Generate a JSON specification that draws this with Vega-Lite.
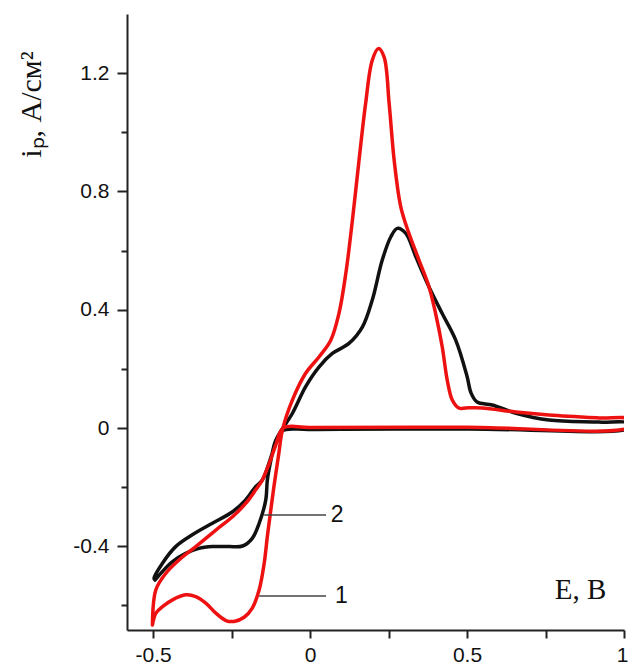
{
  "$schema": "https://vega.github.io/schema/vega-lite/v6.json",
  "width": 497,
  "height": 616,
  "autosize": {"type": "none"},
  "padding": {"left": 127, "top": 14, "right": 4, "bottom": 41},
  "background": "white",
  "config": {"view": {"stroke": null}},
  "datasets": {
    "curves": [
      {"s": "2", "o": 1, "E": -0.494, "i": -0.514},
      {"s": "2", "o": 2, "E": -0.470, "i": -0.485},
      {"s": "2", "o": 3, "E": -0.438, "i": -0.452},
      {"s": "2", "o": 4, "E": -0.396, "i": -0.424},
      {"s": "2", "o": 5, "E": -0.354, "i": -0.407},
      {"s": "2", "o": 6, "E": -0.311, "i": -0.401},
      {"s": "2", "o": 7, "E": -0.258, "i": -0.401},
      {"s": "2", "o": 8, "E": -0.215, "i": -0.399},
      {"s": "2", "o": 9, "E": -0.184, "i": -0.373},
      {"s": "2", "o": 10, "E": -0.162, "i": -0.322},
      {"s": "2", "o": 11, "E": -0.141, "i": -0.243},
      {"s": "2", "o": 12, "E": -0.136, "i": -0.176},
      {"s": "2", "o": 13, "E": -0.125, "i": -0.110},
      {"s": "2", "o": 14, "E": -0.109, "i": -0.041},
      {"s": "2", "o": 15, "E": -0.056, "i": 0.050},
      {"s": "2", "o": 16, "E": -0.014, "i": 0.140},
      {"s": "2", "o": 17, "E": 0.029, "i": 0.207},
      {"s": "2", "o": 18, "E": 0.071, "i": 0.252},
      {"s": "2", "o": 19, "E": 0.124, "i": 0.286},
      {"s": "2", "o": 20, "E": 0.167, "i": 0.342},
      {"s": "2", "o": 21, "E": 0.198, "i": 0.432},
      {"s": "2", "o": 22, "E": 0.230, "i": 0.568},
      {"s": "2", "o": 23, "E": 0.257, "i": 0.646},
      {"s": "2", "o": 24, "E": 0.278, "i": 0.675},
      {"s": "2", "o": 25, "E": 0.305, "i": 0.658},
      {"s": "2", "o": 26, "E": 0.337, "i": 0.579},
      {"s": "2", "o": 27, "E": 0.379, "i": 0.477},
      {"s": "2", "o": 28, "E": 0.421, "i": 0.387},
      {"s": "2", "o": 29, "E": 0.464, "i": 0.297},
      {"s": "2", "o": 30, "E": 0.500, "i": 0.175},
      {"s": "2", "o": 31, "E": 0.513, "i": 0.118},
      {"s": "2", "o": 32, "E": 0.532, "i": 0.088},
      {"s": "2", "o": 33, "E": 0.580, "i": 0.078},
      {"s": "2", "o": 34, "E": 0.656, "i": 0.050},
      {"s": "2", "o": 35, "E": 0.761, "i": 0.027},
      {"s": "2", "o": 36, "E": 0.920, "i": 0.020},
      {"s": "2", "o": 37, "E": 1.020, "i": 0.016},
      {"s": "2", "o": 38, "E": 1.020, "i": 0.000},
      {"s": "2", "o": 39, "E": 0.500, "i": -0.003},
      {"s": "2", "o": 40, "E": 0.000, "i": -0.005},
      {"s": "2", "o": 41, "E": -0.090, "i": -0.010},
      {"s": "2", "o": 42, "E": -0.115, "i": -0.070},
      {"s": "2", "o": 43, "E": -0.152, "i": -0.176},
      {"s": "2", "o": 44, "E": -0.173, "i": -0.198},
      {"s": "2", "o": 45, "E": -0.205, "i": -0.243},
      {"s": "2", "o": 46, "E": -0.247, "i": -0.283},
      {"s": "2", "o": 47, "E": -0.311, "i": -0.322},
      {"s": "2", "o": 48, "E": -0.375, "i": -0.361},
      {"s": "2", "o": 49, "E": -0.428, "i": -0.401},
      {"s": "2", "o": 50, "E": -0.470, "i": -0.457},
      {"s": "2", "o": 51, "E": -0.497, "i": -0.508},
      {"s": "2", "o": 52, "E": -0.494, "i": -0.514},

      {"s": "1", "o": 1, "E": -0.502, "i": -0.666},
      {"s": "1", "o": 2, "E": -0.491, "i": -0.626},
      {"s": "1", "o": 3, "E": -0.470, "i": -0.604},
      {"s": "1", "o": 4, "E": -0.438, "i": -0.581},
      {"s": "1", "o": 5, "E": -0.396, "i": -0.564},
      {"s": "1", "o": 6, "E": -0.364, "i": -0.570},
      {"s": "1", "o": 7, "E": -0.332, "i": -0.592},
      {"s": "1", "o": 8, "E": -0.300, "i": -0.626},
      {"s": "1", "o": 9, "E": -0.268, "i": -0.651},
      {"s": "1", "o": 10, "E": -0.242, "i": -0.654},
      {"s": "1", "o": 11, "E": -0.210, "i": -0.640},
      {"s": "1", "o": 12, "E": -0.184, "i": -0.609},
      {"s": "1", "o": 13, "E": -0.162, "i": -0.547},
      {"s": "1", "o": 14, "E": -0.146, "i": -0.457},
      {"s": "1", "o": 15, "E": -0.136, "i": -0.367},
      {"s": "1", "o": 16, "E": -0.125, "i": -0.277},
      {"s": "1", "o": 17, "E": -0.115, "i": -0.198},
      {"s": "1", "o": 18, "E": -0.100, "i": -0.090},
      {"s": "1", "o": 19, "E": -0.088, "i": -0.007},
      {"s": "1", "o": 20, "E": -0.056, "i": 0.095},
      {"s": "1", "o": 21, "E": -0.014, "i": 0.185},
      {"s": "1", "o": 22, "E": 0.029, "i": 0.241},
      {"s": "1", "o": 23, "E": 0.066, "i": 0.297},
      {"s": "1", "o": 24, "E": 0.092, "i": 0.387},
      {"s": "1", "o": 25, "E": 0.114, "i": 0.523},
      {"s": "1", "o": 26, "E": 0.135, "i": 0.703},
      {"s": "1", "o": 27, "E": 0.156, "i": 0.905},
      {"s": "1", "o": 28, "E": 0.177, "i": 1.097},
      {"s": "1", "o": 29, "E": 0.198, "i": 1.243},
      {"s": "1", "o": 30, "E": 0.218, "i": 1.283},
      {"s": "1", "o": 31, "E": 0.236, "i": 1.254},
      {"s": "1", "o": 32, "E": 0.252, "i": 1.097},
      {"s": "1", "o": 33, "E": 0.268, "i": 0.905},
      {"s": "1", "o": 34, "E": 0.289, "i": 0.748},
      {"s": "1", "o": 35, "E": 0.315, "i": 0.658},
      {"s": "1", "o": 36, "E": 0.347, "i": 0.568},
      {"s": "1", "o": 37, "E": 0.379, "i": 0.477},
      {"s": "1", "o": 38, "E": 0.400, "i": 0.387},
      {"s": "1", "o": 39, "E": 0.421, "i": 0.275},
      {"s": "1", "o": 40, "E": 0.437, "i": 0.162},
      {"s": "1", "o": 41, "E": 0.453, "i": 0.095},
      {"s": "1", "o": 42, "E": 0.475, "i": 0.067},
      {"s": "1", "o": 43, "E": 0.497, "i": 0.068},
      {"s": "1", "o": 44, "E": 0.548, "i": 0.068},
      {"s": "1", "o": 45, "E": 0.656, "i": 0.054},
      {"s": "1", "o": 46, "E": 0.761, "i": 0.044},
      {"s": "1", "o": 47, "E": 0.920, "i": 0.034},
      {"s": "1", "o": 48, "E": 1.020, "i": 0.029},
      {"s": "1", "o": 49, "E": 1.020, "i": 0.004},
      {"s": "1", "o": 50, "E": 0.500, "i": 0.003},
      {"s": "1", "o": 51, "E": 0.000, "i": 0.002},
      {"s": "1", "o": 52, "E": -0.085, "i": 0.000},
      {"s": "1", "o": 53, "E": -0.110, "i": -0.060},
      {"s": "1", "o": 54, "E": -0.130, "i": -0.120},
      {"s": "1", "o": 55, "E": -0.152, "i": -0.176},
      {"s": "1", "o": 56, "E": -0.173, "i": -0.209},
      {"s": "1", "o": 57, "E": -0.205, "i": -0.255},
      {"s": "1", "o": 58, "E": -0.247, "i": -0.300},
      {"s": "1", "o": 59, "E": -0.300, "i": -0.345},
      {"s": "1", "o": 60, "E": -0.364, "i": -0.401},
      {"s": "1", "o": 61, "E": -0.417, "i": -0.446},
      {"s": "1", "o": 62, "E": -0.459, "i": -0.491},
      {"s": "1", "o": 63, "E": -0.491, "i": -0.547},
      {"s": "1", "o": 64, "E": -0.502, "i": -0.666}
    ],
    "leaders": [
      {"label": "2", "x1": -0.146, "x2": 0.051, "y": -0.294, "lx": 0.086},
      {"label": "1", "x1": -0.162, "x2": 0.051, "y": -0.568, "lx": 0.100}
    ]
  },
  "layer": [
    {
      "data": {"name": "curves"},
      "transform": [{"filter": "datum.s === '2'"}],
      "mark": {"type": "line", "color": "#111111", "strokeWidth": 3.5, "strokeJoin": "round", "strokeCap": "round", "interpolate": "catmull-rom", "clip": true},
      "encoding": {
        "x": {
          "field": "E", "type": "quantitative",
          "scale": {"domain": [-0.583, 1.0], "nice": false, "zero": false},
          "axis": {
            "values": [-0.5, -0.25, 0, 0.25, 0.5, 0.75, 1],
            "labelExpr": "datum.value == -0.5 ? '-0.5' : datum.value == 0 ? '0' : datum.value == 0.5 ? '0.5' : datum.value == 1 ? '1' : ''",
            "grid": false,
            "domainColor": "#222222", "domainWidth": 2,
            "tickColor": "#222222", "tickWidth": 2, "tickSize": 8,
            "labelFont": "Liberation Sans", "labelFontSize": 21, "labelColor": "#111111",
            "labelPadding": 6, "labelFlush": 3, "labelFlushOffset": 4, "labelOverlap": false,
            "title": "E, В",
            "titleFont": "Liberation Serif", "titleFontSize": 29, "titleFontWeight": "normal", "titleColor": "#111111",
            "titleX": 453, "titleY": -32, "titleAlign": "center", "titleBaseline": "alphabetic", "titleAnchor": null
          }
        },
        "y": {
          "field": "i", "type": "quantitative",
          "scale": {"domain": [-0.683, 1.40], "nice": false, "zero": false},
          "axis": {
            "values": [-0.6, -0.4, -0.2, 0, 0.2, 0.4, 0.6, 0.8, 1.0, 1.2],
            "labelExpr": "datum.value == -0.4 ? '-0.4' : datum.value == 0 ? '0' : datum.value == 0.4 ? '0.4' : datum.value == 0.8 ? '0.8' : datum.value == 1.2 ? '1.2' : ''",
            "grid": false,
            "domainColor": "#222222", "domainWidth": 2,
            "tickColor": "#222222", "tickWidth": 2,
            "tickSize": {"condition": {"test": "datum.value == -0.4 || datum.value == 0 || datum.value == 0.4 || datum.value == 0.8 || datum.value == 1.2", "value": 10}, "value": 6},
            "labelFont": "Liberation Sans", "labelFontSize": 21, "labelColor": "#111111",
            "labelPadding": 8, "labelFlush": false, "labelOverlap": false,
            "title": "iₚ, А/см²",
            "titleFont": "Liberation Serif", "titleFontSize": 30, "titleFontWeight": "normal", "titleColor": "#111111",
            "titleX": -96, "titleY": 90, "titleAngle": 270, "titleAlign": "center", "titleBaseline": "middle"
          }
        },
        "order": {"field": "o", "type": "quantitative"}
      }
    },
    {
      "data": {"name": "curves"},
      "transform": [{"filter": "datum.s === '1'"}],
      "mark": {"type": "line", "color": "#ee1111", "strokeWidth": 3.5, "strokeJoin": "round", "strokeCap": "round", "interpolate": "catmull-rom", "clip": true},
      "encoding": {
        "x": {"field": "E", "type": "quantitative"},
        "y": {"field": "i", "type": "quantitative"},
        "order": {"field": "o", "type": "quantitative"}
      }
    },
    {
      "data": {"name": "leaders"},
      "mark": {"type": "rule", "color": "#444444", "strokeWidth": 1.5},
      "encoding": {
        "x": {"field": "x1", "type": "quantitative"},
        "x2": {"field": "x2"},
        "y": {"field": "y", "type": "quantitative"}
      }
    },
    {
      "data": {"name": "leaders"},
      "mark": {"type": "text", "font": "Liberation Sans", "fontSize": 23, "color": "#111111", "align": "center", "baseline": "middle"},
      "encoding": {
        "x": {"field": "lx", "type": "quantitative"},
        "y": {"field": "y", "type": "quantitative"},
        "text": {"field": "label"}
      }
    }
  ]
}
